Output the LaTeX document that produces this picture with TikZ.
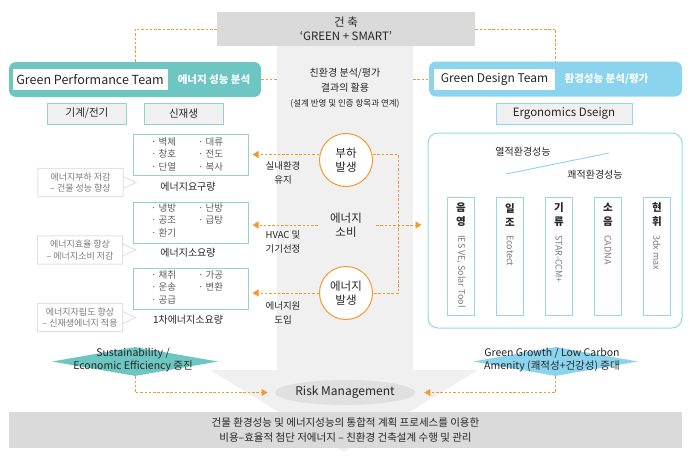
\documentclass[tikz,border=0pt]{standalone}
\usepackage{fontspec}
\setmainfont{Noto Sans CJK KR}
\usetikzlibrary{arrows.meta, calc, shapes.geometric}

\definecolor{gpteal}{HTML}{6DC6C1}
\definecolor{gdsky}{HTML}{8AD4EE}
\definecolor{tealedge}{HTML}{93D3CF}
\definecolor{skyedge}{HTML}{93D6EF}
\definecolor{dashorange}{HTML}{F29A2E}
\definecolor{bandgray}{HTML}{DADADA}
\definecolor{colgray}{HTML}{F0F0F0}
\definecolor{riskgray}{HTML}{E0E0E0}
\definecolor{annedge}{HTML}{E2E2E2}
\definecolor{ink}{HTML}{262626}
\definecolor{softink}{HTML}{5E5E5E}
\definecolor{paleink}{HTML}{7A7A7A}

\newcommand{\fsz}[2]{\fontsize{#1}{#2}\selectfont}

\tikzset{
	dashline/.style={dashorange, line width=0.9pt, dash pattern=on 2.5pt off 1.8pt},
	dasharrow/.style={dashline, -{Triangle[length=6pt,width=7pt]}},
	subbox/.style={fill=colgray, line width=1pt, minimum width=79, minimum height=21, font=\fsz{10.5}{12}},
	reqbox/.style={draw=tealedge, line width=1pt, fill=white, minimum width=115, minimum height=41},
	item/.style={align=left, text=softink, font=\fsz{9.5}{12.3}},
	reqlabel/.style={font=\fsz{10}{12}},
	annot/.style={align=center, text=paleink, minimum width=85, minimum height=28, font=\fsz{9}{11.5}},
	circ/.style={circle, draw=dashorange, line width=1pt, fill=white, minimum size=53, align=center, font=\fsz{11.5}{14}},
	midlabel/.style={align=center, font=\fsz{9.5}{14}},
	toolbar/.style={draw=skyedge, line width=1pt, minimum width=27, minimum height=118},
	barhead/.style={align=center, font=\fsz{10.5}{14}\bfseries},
	bartool/.style={text=paleink, font=\fsz{9}{10}},
	dtext/.style={align=center, font=\fsz{10.5}{13}},
}

\begin{document}
\begin{tikzpicture}[x=1pt, y=-1pt, every node/.style={text=ink, inner sep=0pt}]
	\useasboundingbox (0,0) rectangle (691,458);
	
	% Central grey arrow
	\fill[colgray] (277,46) -- (413,46) -- (413,370) -- (478,370) -- (344,452) -- (210,370) -- (277,370) -- cycle;
	
	% Top box
	\node[fill=bandgray, minimum width=258, minimum height=34, align=center, font=\fsz{11.5}{14}] (arch) at (346,29) {건 축\\‘GREEN + SMART’};
	
	% Teams
	\node[fill=gpteal, rounded corners=7, minimum width=252, minimum height=35] (gpt) at (135,79.5) {};
	\node[fill=white, minimum width=155, minimum height=21, font=\fsz{12.5}{14}] (gptname) at (90,79.5) {Green Performance Team};
	\node[text=white, font=\fsz{10.5}{13}\bfseries] (gptrole) at (214,79.5) {에너지 성능 분석};
	
	\node[fill=gdsky, rounded corners=7, minimum width=253, minimum height=35] (gdt) at (555.5,79) {};
	\node[fill=white, minimum width=121, minimum height=21, font=\fsz{12}{14}] (gdtname) at (494.5,79) {Green Design Team};
	\node[text=white, font=\fsz{10.5}{13}\bfseries] (gdtrole) at (606.5,79) {환경성능 분석/평가};
	
	\coordinate (colL) at (277,79.5);
	\coordinate (colR) at (413,79);
	\draw[dashline] (arch.west) -| (gpt.north);
	\draw[dashline] (arch.east) -| (gdt.north);
	\draw[dashline] (gpt.east) -- (colL);
	\draw[dashline] (colR) -- (gdt.west);
	
	\node[align=center, font=\fsz{10}{15}] (usage) at (345,88) {친환경 분석/평가\\결과의 활용\\{\fsz{8.5}{15}(설계 반영 및 인증 항목과 연계)}};
	
	\node[subbox, draw=tealedge] (mech) at (87,113.5) {기계/전기};
	\node[subbox, draw=tealedge] (renew) at (183.5,113.5) {신재생};
	\node[subbox, draw=skyedge, minimum width=136, font=\fsz{11.5}{13}] (ergo) at (564,113.5) {Ergonomics Dseign};
	
	% Energy requirement boxes
	\node[reqbox] (req1) at (190.5,154.5) {};
	\node[item, anchor=north west] (req1a) at (151,137.5) {· 벽체\\· 창호\\· 단열};
	\node[item, anchor=north west] (req1b) at (198,137.5) {· 대류\\· 전도\\· 복사};
	\node[reqlabel] (req1lab) at (188,187) {에너지요구량};
	
	\node[reqbox] (req2) at (190.5,222.5) {};
	\node[item, anchor=north west] (req2a) at (151,203.5) {· 냉방\\· 공조\\· 환기};
	\node[item, anchor=north west] (req2b) at (198,203.5) {· 난방\\· 급탕};
	\node[reqlabel] (req2lab) at (188,253) {에너지소요량};
	
	\node[reqbox] (req3) at (190.5,288.5) {};
	\node[item, anchor=north west] (req3a) at (151,270.5) {· 채취\\· 운송\\· 공급};
	\node[item, anchor=north west] (req3b) at (198,270.5) {· 가공\\· 변환};
	\node[reqlabel] (req3lab) at (188,320) {1차에너지소요량};
	
	% Side notes
	\node[annot] (ann1) at (80.5,182.5) {에너지부하 저감\\– 건물 성능 향상};
	\node[annot] (ann2) at (80,250) {에너지효율 향상\\– 에너지소비 저감};
	\node[annot] (ann3) at (80,317.5) {에너지자립도 향상\\– 신재생에너지 적용};
	\foreach \a in {ann1,ann2,ann3}
	\draw[annedge, line width=1pt] (\a.north west) -- (\a.north east) -- ([yshift=-6pt]\a.east) -- ([xshift=13pt]\a.east) -- ([yshift=6pt]\a.east) -- (\a.south east) -- (\a.south west) -- cycle;
	
	% Load / use / generation
	\node[circ] (load) at (346,160) {부하\\발생};
	\node[align=center, font=\fsz{11.5}{14}] (use) at (346,225) {에너지\\소비};
	\node[circ] (gen) at (346,293) {에너지\\발생};
	
	\node[midlabel] (lab1) at (283,172.5) {실내환경\\유지};
	\node[midlabel] (lab2) at (283,241.5) {HVAC 및\\기기선정};
	\node[midlabel] (lab3) at (283,312.5) {에너지원\\도입};
	
	\draw[dasharrow] (load.west |- req1.east) -- ($(req1.east)+(4,0)$);
	\draw[dasharrow] ($(use.west)+(-12,0)$) -- ($(use.west -| req2.east)+(4,0)$);
	\draw[dasharrow] (gen.west) -- ($(gen.west -| req3.east)+(4,0)$);
	
	\coordinate (loopT) at (398,154.5);
	\coordinate (loopB) at (398,293);
	\draw[dashline] (load.east |- loopT) -- (loopT) -- (loopB) -- (gen.east |- loopB);
	
	% Design side
	\node[draw=skyedge, line width=1pt, rounded corners=10, minimum width=254, minimum height=195] (rbox) at (555,230.5) {};
	\draw[dasharrow] ($(use.east)+(14,0)$) -- ($(use.east -| rbox.west)+(-6,0)$);
	
	\node[font=\fsz{10}{12}] (thermal) at (523,152) {열적환경성능};
	\node[font=\fsz{10}{12}] (comfort) at (595,175) {쾌적환경성능};
	\coordinate (slantA) at (506,174);
	\coordinate (slantB) at (609,153);
	\draw[skyedge, line width=1pt] (slantA) -- (slantB);
	
	\foreach \i/\ka/\kb/\tool in {0/음/영/{IES VE, Solar Tool},1/일/조/Ecotect,2/기/류/STAR-CCM+,3/소/음/CADNA,4/현/휘/3dx max}{
		\node[toolbar] (bar\i) at ({461+49*\i},256) {};
		\node[barhead] (head\i) at ({461+49*\i},215) {\ka\\\kb};
		\node[bartool, rotate=-90, anchor=west] (tool\i) at ({461+49*\i},235) {\tool};
	}
	
	% Goals and risk
	\node[diamond, fill=gpteal, minimum width=166, minimum height=29] (sust) at (135,361.5) {};
	\node[dtext] (susttext) at (133,360) {Sustainability /\\Economic Efficiency 증진};
	\node[diamond, fill=gdsky, minimum width=165, minimum height=29] (growth) at (555.5,361.5) {};
	\node[dtext] (growthtext) at (552,360) {Green Growth / Low Carbon\\Amenity (쾌적성+건강성) 증대};
	
	\node[ellipse, fill=riskgray, minimum width=136, minimum height=25, font=\fsz{12}{13}] (risk) at (345,392.5) {Risk Management};
	\draw[dasharrow] (sust.south) |- ($(risk.west)+(-7,0)$);
	\draw[dasharrow] (growth.south) |- ($(risk.east)+(9,0)$);
	
	% Bottom band
	\node[fill=bandgray, minimum width=673, minimum height=36, align=center, font=\fsz{10.5}{15}] (summary) at (345.5,430) {건물 환경성능 및 에너지성능의 통합적 계획 프로세스를 이용한\\비용–효율적 첨단 저에너지 – 친환경 건축설계 수행 및 관리};
\end{tikzpicture}
\end{document}
